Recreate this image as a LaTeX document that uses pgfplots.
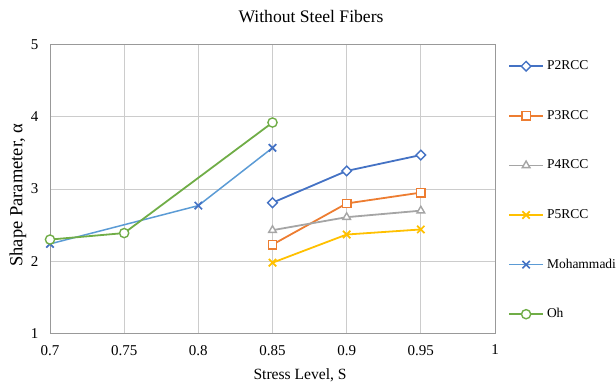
\documentclass[border=0pt]{standalone}
\usepackage{pgfplots}
\pgfplotsset{compat=1.18}
\usepackage{fontspec}
\setmainfont{Liberation Serif}
\definecolor{cA}{RGB}{68,114,196}
\definecolor{cB}{RGB}{237,125,49}
\definecolor{cC}{RGB}{165,165,165}
\definecolor{cD}{RGB}{255,192,0}
\definecolor{cE}{RGB}{91,155,213}
\definecolor{cF}{RGB}{112,173,71}
\begin{document}
\begin{tikzpicture}
\path[use as bounding box] (-50pt,-51.5pt) rectangle (566pt,333.5pt);
\begin{axis}[
  scale only axis, width=445pt, height=289pt,
  xmin=0.7, xmax=1, ymin=1, ymax=5,
  xtick={0.7,0.75,0.8,0.85,0.9,0.95,1},
  xticklabels={0.7,0.75,0.8,0.85,0.9,0.95,1},
  ytick={1,2,3,4,5},
  /pgf/number format/assume math mode=true,
  grid=major, major grid style={draw=gray!40, line width=0.7pt},
  axis line style={draw=gray!80, line width=0.9pt},
  tick style={draw=none},
  tick label style={font=\fontsize{15}{15}\selectfont},
  yticklabel style={xshift=-8pt},
  xticklabel style={yshift=-8pt},
  title={Without Steel Fibers},
  title style={font=\fontsize{17.6}{17.6}\selectfont, at={(axis description cs:0.5865,1.0744)}, anchor=center},
  xlabel={Stress Level, S}, ylabel={Shape Parameter, α},
  xlabel style={font=\fontsize{15.6}{15.6}\selectfont, at={(axis description cs:0.562,-0.1436)}, anchor=center},
  ylabel style={font=\fontsize{18.5}{18.5}\selectfont, at={(axis description cs:-0.0719,0.479)}, anchor=center, rotate=0},
  clip=false,
  legend style={at={(axis description cs:1,1)}, xshift=13pt, yshift=-15pt, anchor=north west, draw=none, fill=none,
    font=\fontsize{13.5}{13.5}\selectfont, inner sep=0pt,
    nodes={inner sep=0pt, text height=10pt, text depth=3pt},
    row sep=36.6pt, cells={anchor=west}},
  legend image code/.code={\draw[mark repeat=2,mark phase=2] plot coordinates {(0pt,0pt) (17pt,0pt) (34pt,0pt)}; \path (37pt,0pt);},
  every axis plot/.append style={line width=1.8pt},
]
\addplot[color=cA, mark=square*, mark options={fill=white, line width=1.4pt, mark size=3.4pt, rotate=45}] coordinates {(0.85,2.81) (0.9,3.25) (0.95,3.47)};
\addlegendentry{P2RCC}
\addplot[color=cB, mark=square*, mark options={fill=white, line width=1.4pt, mark size=4.2pt}] coordinates {(0.85,2.23) (0.9,2.80) (0.95,2.95)};
\addlegendentry{P3RCC}
\addplot[color=cC, mark=triangle*, mark options={fill=white, line width=1.4pt, mark size=4.4pt}] coordinates {(0.85,2.43) (0.9,2.61) (0.95,2.70)};
\addlegendentry{P4RCC}
\addplot[color=cD, mark=x, mark options={line width=1.7pt, mark size=5.2pt}] coordinates {(0.85,1.98) (0.9,2.37) (0.95,2.44)};
\addlegendentry{P5RCC}
\addplot[color=cE, line width=1.5pt, mark=x, mark options={draw=cA, line width=1.7pt, mark size=5.2pt}] coordinates {(0.7,2.24) (0.8,2.77) (0.85,3.57)};
\addlegendentry{Mohammadi}
\addplot[color=cF, mark=*, mark options={fill=white, line width=1.4pt, mark size=4.6pt}] coordinates {(0.7,2.30) (0.75,2.39) (0.85,3.92)};
\addlegendentry{Oh}
\end{axis}
\end{tikzpicture}
\end{document}
